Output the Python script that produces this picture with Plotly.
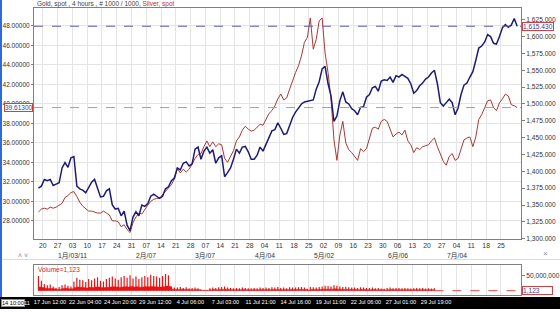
import pandas as pd
import plotly.graph_objects as go

W, H = 560, 312

# ---------------- data ----------------
days = pd.bdate_range("2010-12-16", "2011-08-01") + pd.Timedelta(hours=12)

gold = [
    1375, 1378,
    1388, 1386, 1388, 1379, 1381,
    1383, 1405, 1413, 1406, 1420,
    1422, 1378, 1374, 1372, 1368,
    1376, 1384, 1388, 1376, 1362,
    1363, 1371, 1374, 1350, 1344,
    1345, 1334, 1341, 1320, 1312,
    1332, 1340, 1334, 1350, 1348,
    1352, 1363, 1366, 1363, 1360,
    1363, 1374, 1377, 1386, 1390,
    1405, 1402, 1412, 1414, 1408,
    1411, 1433, 1436, 1418, 1430,
    1436, 1427, 1432, 1412, 1420,
    1423, 1392, 1398, 1405, 1418,
    1433, 1427, 1436, 1437, 1429,
    1418, 1418, 1424, 1436, 1430,
    1440, 1452, 1460, 1462, 1472,
    1464, 1455, 1456, 1468, 1480,
    1488, 1494, 1500, 1503, 1504,
    1505, 1506, 1522, 1533, 1552,
    1556, 1530, 1512, 1474, 1482,
    1505, 1518, 1503, 1500, 1493,
    1490, 1484, 1495, 1496, 1510,
    1514, 1524, 1526, 1519, 1534,
    1536, 1535, 1540, 1532, 1542,
    1540, 1544, 1541, 1538, 1530,
    1516, 1520, 1527, 1531, 1537,
    1540, 1546, 1550, 1530, 1502,
    1497, 1502, 1507, 1502, 1484,
    1494, 1514, 1528, 1531, 1540,
    1548, 1565, 1583, 1586, 1592,
    1603, 1600, 1590, 1589, 1600,
    1613, 1618, 1614, 1617, 1627,
    1615.43,
]

silver = [
    28.9, 29.2,
    29.3, 29.2, 29.4, 29.3, 29.4,
    29.6, 29.8, 30.4, 30.6, 30.9,
    31.0, 30.5, 29.9, 29.5, 29.2,
    29.0, 29.0, 28.9, 28.8, 28.8,
    29.0, 28.8, 28.6, 28.0, 28.0,
    27.9, 27.4, 27.6, 27.1, 26.8,
    27.8, 28.4, 28.8, 28.7, 29.2,
    29.6, 30.0, 30.2, 30.3, 30.3,
    30.7, 31.0, 31.3, 31.7, 32.3,
    33.4, 32.9, 33.3, 33.0, 33.3,
    33.8, 34.4, 34.8, 34.9, 35.6,
    36.2, 35.6, 36.1, 35.6, 35.9,
    35.8, 34.4, 34.0, 34.6, 35.2,
    36.2, 36.6, 37.3, 37.7, 37.4,
    37.2, 37.3, 37.6, 37.9, 37.8,
    38.4, 39.0, 39.3, 39.8, 40.5,
    41.0, 40.4, 40.6, 41.5, 42.4,
    43.2, 43.9, 44.9, 46.3, 46.8,
    48.8, 45.6, 46.6, 48.5, 48.8,
    45.2, 43.2, 40.5, 36.3, 34.2,
    36.8, 38.2, 36.0, 35.3, 35.0,
    34.6, 34.2, 35.4, 35.1, 35.4,
    36.4, 37.5, 37.6, 37.4, 38.2,
    38.4, 38.2, 37.3, 36.6, 36.9,
    37.1, 36.8, 37.3, 36.2, 35.8,
    35.0, 35.5, 35.3, 35.6, 35.7,
    35.8, 36.2, 36.5, 35.6, 34.8,
    34.1, 33.7, 34.6, 34.9, 34.2,
    34.4, 35.4, 36.3, 36.5, 36.6,
    35.6, 36.6, 38.4, 38.9, 39.6,
    40.3, 40.4, 39.6, 39.3, 40.1,
    40.5, 41.0, 40.8, 39.9, 39.8,
    39.613,
]

# volume (millions), daily peak bar and daily base level
vol_peak = [
    48, 32,
    22, 18, 20, 14, 8,
    12, 18, 20, 16, 14,
    30, 42, 36, 34, 28,
    38, 34, 40, 44, 32,
    30, 38, 42, 46, 40,
    36, 44, 48, 42, 50,
    40, 46, 38, 44, 48,
    44, 52, 48, 46, 42,
    48, 54, 50, 12, 10,
    10, 12, 9, 11, 8,
    9, 10, 8, 3, 2,
    2, 8, 10, 9, 11,
    12, 14, 10, 9, 8,
    9, 8, 10, 9, 8,
    8, 9, 8, 10, 9,
    10, 9, 11, 10, 12,
    9, 10, 8, 11, 10,
    10, 11, 12, 10, 6,
    12, 11, 10, 12, 14,
    16, 15, 14, 18, 16,
    14, 12, 13, 11, 10,
    10, 9, 11, 10, 9,
    9, 10, 8, 9, 7,
    6, 9, 10, 8, 9,
    9, 8, 9, 8, 7,
    8, 9, 8, 9, 7,
    8, 7, 8,
]
vol_base = [
    12, 10,
    8, 7, 7, 6, 4,
    5, 7, 8, 6, 6,
    10, 12, 11, 10, 9,
    11, 10, 12, 12, 10,
    10, 11, 12, 13, 12,
    11, 12, 13, 12, 14,
    12, 13, 11, 12, 13,
    13, 14, 13, 12, 12,
    13, 15, 14, 5, 4,
    4, 5, 4, 4, 3,
    3, 4, 3, 1, 1,
    1, 3, 4, 3, 4,
    4, 5, 4, 3, 3,
    3, 3, 4, 3, 3,
    3, 3, 3, 4, 3,
    4, 3, 4, 4, 4,
    3, 4, 3, 4, 4,
    4, 4, 4, 4, 2,
    4, 4, 4, 4, 5,
    5, 5, 5, 6, 5,
    5, 4, 4, 4, 4,
    4, 3, 4, 4, 3,
    3, 4, 3, 3, 3,
    2, 3, 4, 3, 3,
    3, 3, 3, 3, 3,
    3, 3, 3, 3, 3,
    3, 3, 3,
]
vol_last = 1123

week_ticks = pd.date_range("2010-12-20", "2011-07-25", freq="7D")
day_labels = ["20", "27", "03", "10", "17", "24", "31", "07", "14", "21", "28",
              "07", "14", "21", "28", "04", "11", "18", "25", "02", "09", "16",
              "23", "30", "06", "13", "20", "27", "04", "11", "18", "25"]
month_ticks = ["2011-01-03", "2011-02-07", "2011-03-07", "2011-04-04",
               "2011-05-02", "2011-06-06", "2011-07-04"]
month_labels = ["1月/03/11", "2月/07", "3月/07", "4月/04", "5月/02", "6月/06", "7月/04"]

bottom_labels = ["17 Jun 12:00", "22 Jun 04:00", "24 Jun 20:00", "29 Jun 12:00",
                 "4 Jul 06:00", "7 Jul 03:00", "11 Jul 21:00", "14 Jul 16:00",
                 "19 Jul 11:00", "22 Jul 06:00", "27 Jul 01:00", "29 Jul 19:00"]

# ---------------- helpers ----------------
def px(x):
    return x / W

def py(y):
    return 1 - y / H

FONT = "Liberation Sans, Arial, Noto Sans CJK JP, sans-serif"
GRID = "#e4e4e4"
FRAME = "#808080"
TXT = "#333333"
XRANGE = ["2010-12-15 00:00", "2011-08-02 19:00"]
RB = [dict(bounds=["sat", "mon"])]

main_dom_x = [px(34), px(521)]
main_dom_y = [py(241), py(8)]
vol_dom_y = [py(298), py(268)]

vol_days = list(days[:len(vol_peak)])

# volume spikes as vertical segments built from the data
spk_x, spk_y = [], []
for d, v in zip(vol_days, vol_peak):
    spk_x += [d, d, None]
    spk_y += [0, v * 1e6, None]

fig = go.Figure()

fig.add_trace(go.Scatter(x=days, y=gold, mode="lines", yaxis="y2", xaxis="x",
                         line=dict(color="#1c1c74", width=1.5), name="Gold"))
fig.add_trace(go.Scatter(x=days, y=silver, mode="lines", yaxis="y", xaxis="x",
                         line=dict(color="#a63a36", width=1), name="Silver"))

fig.add_trace(go.Scatter(x=vol_days, y=[v * 1e6 for v in vol_base], xaxis="x2", yaxis="y3",
                         mode="lines", line=dict(color="#ee1111", width=0.5, shape="hv"),
                         fill="tozeroy", fillcolor="#ee1111", name="vol base"))
fig.add_trace(go.Scatter(x=spk_x, y=spk_y, xaxis="x2", yaxis="y3", mode="lines",
                         line=dict(color="#ee1111", width=1.2), name="vol peak"))

# bottom black bar labels
fig.add_trace(go.Scatter(x=list(range(len(bottom_labels))), y=[0] * len(bottom_labels),
                         mode="text", text=bottom_labels, xaxis="x3", yaxis="y4",
                         textfont=dict(color="white", size=5.6, family=FONT)))

fig.update_layout(
    width=W, height=H,
    margin=dict(l=0, r=0, t=0, b=0),
    paper_bgcolor="white", plot_bgcolor="white",
    showlegend=False,
    font=dict(family=FONT, size=7, color=TXT),
    xaxis=dict(domain=main_dom_x, anchor="y", type="date", range=XRANGE, rangebreaks=RB,
               tickvals=week_ticks, ticktext=day_labels, tickfont=dict(size=6.8, color=TXT),
               showgrid=True, gridcolor=GRID, gridwidth=1,
               showline=True, linecolor=FRAME, mirror=True, ticks="", zeroline=False),
    yaxis=dict(domain=main_dom_y, anchor="x", range=[26.17, 49.83],
               tickvals=[28, 30, 32, 34, 36, 38, 40, 42, 44, 46, 48], tickformat=".5f",
               tickfont=dict(size=6.5, color=TXT), ticks="outside", ticklen=2, tickcolor=FRAME,
               showgrid=True, gridcolor=GRID, showline=True, linecolor=FRAME, mirror=True,
               zeroline=False),
    yaxis2=dict(overlaying="y", side="right", anchor="x", range=[1300, 1642.6], dtick=25,
                tick0=1300, tickformat=",.3f", tickfont=dict(size=6.6, color=TXT),
                ticks="outside", ticklen=3, tickcolor=FRAME, showgrid=False,
                showline=True, linecolor=FRAME, zeroline=False),
    xaxis2=dict(domain=main_dom_x, anchor="y3", type="date", range=XRANGE, rangebreaks=RB,
                tickvals=week_ticks, showticklabels=False, showgrid=True, gridcolor=GRID,
                showline=True, linecolor=FRAME, mirror=True, ticks="", zeroline=False),
    yaxis3=dict(domain=vol_dom_y, anchor="x2", side="right", range=[-14.5e6, 82.3e6],
                tickvals=[50e6], tickformat=",d", tickfont=dict(size=6.6, color=TXT),
                ticks="outside", ticklen=3, tickcolor=FRAME, showgrid=False,
                showline=True, linecolor=FRAME, mirror=True, zeroline=False),
    xaxis3=dict(domain=[0, 1], anchor="y4", range=[-1.4245, 14.53], visible=False),
    yaxis4=dict(domain=[0, py(300)], anchor="x3", range=[-1, 1], visible=False),
)

shapes = [
    # black bottom bar
    dict(type="rect", xref="paper", yref="paper", x0=0, x1=1, y0=0, y1=py(300),
         fillcolor="black", line=dict(width=0), layer="below"),
    # blue stripe on left edge
    dict(type="rect", xref="paper", yref="paper", x0=0, x1=px(2), y0=py(300), y1=1,
         fillcolor="#2f6ad8", line=dict(width=0)),
    # splitter between panes
    dict(type="line", xref="paper", yref="paper", x0=px(2), x1=1, y0=py(262), y1=py(262),
         line=dict(color="#dcdcdc", width=1)),
    # last price lines
    dict(type="line", xref="x domain", yref="y2", x0=0, x1=1, y0=gold[-1], y1=gold[-1],
         line=dict(color="#5a5ab4", width=1, dash="dash")),
    dict(type="line", xref="x domain", yref="y", x0=0, x1=1, y0=silver[-1], y1=silver[-1],
         line=dict(color="#8fa9a9", width=1, dash="dash")),
    dict(type="line", xref="x2", yref="y3", x0=vol_days[-1], x1=XRANGE[1],
         y0=vol_last, y1=vol_last, line=dict(color="#e04848", width=1, dash="dash")),
]
fig.update_layout(shapes=shapes)

ann = [
    dict(x=px(35), y=py(4), xref="paper", yref="paper", xanchor="left", yanchor="middle",
         showarrow=False, font=dict(size=6.5, color="#444444"),
         text="Gold, spot , 4 hours , # 1000 / 1000, <span style='color:#c03030'>Silver, spot</span>"),
    dict(x=px(36), y=py(272), xref="paper", yref="paper", xanchor="left", yanchor="middle",
         showarrow=False, font=dict(size=6.5, color="#dd2222"), text="Volume=1,123"),
    dict(x=px(522), y=gold[-1], xref="paper", yref="y2", xanchor="left", yanchor="middle",
         showarrow=False, text="1,615.430", font=dict(size=6.6, color="#3a3a90"),
         bgcolor="white", bordercolor="#d04040", borderwidth=1, borderpad=0),
    dict(x=px(33), y=silver[-1], xref="paper", yref="y", xanchor="right", yanchor="middle",
         showarrow=False, text="39.61300", font=dict(size=6.5, color="#3a3a90"),
         bgcolor="white", bordercolor="#d04040", borderwidth=1, borderpad=0),
    dict(x=px(522), y=vol_last, xref="paper", yref="y3", xanchor="left", yanchor="middle",
         showarrow=False, text="1,123       ", font=dict(size=6.6, color="#3a3a90"),
         bgcolor="white", bordercolor="#d04040", borderwidth=1, borderpad=0),
    dict(x=px(550), y=py(263), xref="paper", yref="paper", showarrow=False,
         text="×", font=dict(size=8, color="#888888")),
    dict(x=px(16), y=py(264), xref="paper", yref="paper", showarrow=False,
         text="˄ ˅", font=dict(size=7, color="#888888")),
    dict(x=px(0.5), y=py(306), xref="paper", yref="paper", xanchor="left", yanchor="middle",
         showarrow=False, text="14 10:00", font=dict(size=5.6, color="black"),
         bgcolor="white", bordercolor="#888888", borderwidth=1, borderpad=0),
    dict(x=px(27), y=py(306), xref="paper", yref="paper", xanchor="center", yanchor="middle",
         showarrow=False, text="11", font=dict(size=5.6, color="white")),
]
for t, lab in zip(month_ticks, month_labels):
    ann.append(dict(x=t, y=py(258), xref="x", yref="paper", xanchor="center",
                    yanchor="middle", showarrow=False, text=lab,
                    font=dict(size=6.8, color=TXT)))
fig.update_layout(annotations=ann)

fig.write_html("out.html")
